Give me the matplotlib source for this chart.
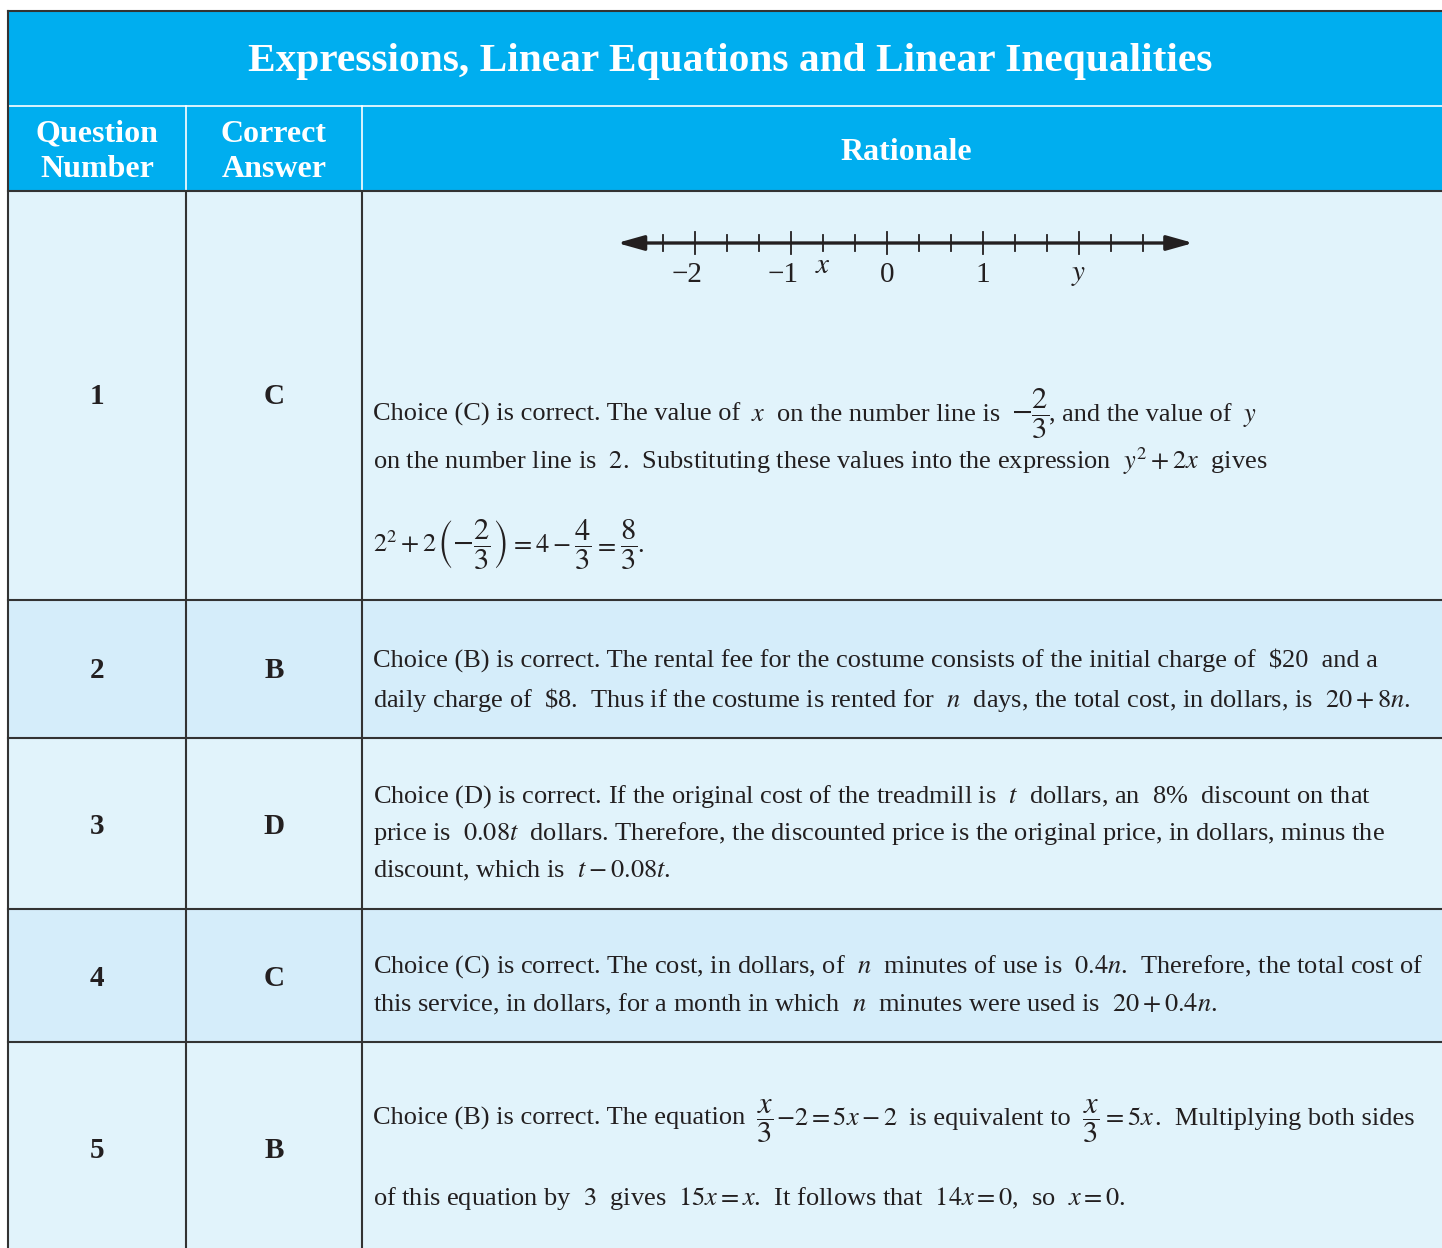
import matplotlib
matplotlib.use("Agg")
import matplotlib.pyplot as plt
from matplotlib.patches import Rectangle

plt.rcParams['font.family'] = ['Liberation Serif', 'DejaVu Serif']
plt.rcParams['mathtext.fontset'] = 'stix'

# table content
title = "Expressions, Linear Equations and Linear Inequalities"
header_labels = ["Question\nNumber", "Correct\nAnswer", "Rationale"]
question_numbers = ["1", "2", "3", "4", "5"]
correct_answers = ["C", "B", "D", "C", "B"]

# each line is a list of chunks; chunks holding a fraction are set a bit larger
rationale_lines = [
    [["Choice (C) is correct. The value of", "$x$", "on the number line is",
      r"$-\dfrac{2}{3}$", ", and the value of", "$y$"],
     [r"on the number line is  $2$.  Substituting these values into the expression  $y^2+2x$  gives"],
     ["$2^2+2$", r"$\left(-\dfrac{2}{3}\right)$", "$=4-$", r"$\dfrac{4}{3}$", "$=$",
      r"$\dfrac{8}{3}$", "."]],
    [[r"Choice (B) is correct. The rental fee for the costume consists of the initial charge of  \$20  and a"],
     [r"daily charge of  \$8.  Thus if the costume is rented for  $n$  days, the total cost, in dollars, is  $20+8n$."]],
    [[r"Choice (D) is correct. If the original cost of the treadmill is  $t$  dollars, an  8%  discount on that"],
     [r"price is  $0.08t$  dollars. Therefore, the discounted price is the original price, in dollars, minus the"],
     [r"discount, which is  $t-0.08t$."]],
    [[r"Choice (C) is correct. The cost, in dollars, of  $n$  minutes of use is  $0.4n$.  Therefore, the total cost of"],
     [r"this service, in dollars, for a month in which  $n$  minutes were used is  $20+0.4n$."]],
    [["Choice (B) is correct. The equation", r"$\dfrac{x}{3}$", "$-2=5x-2$",
      "is equivalent to", r"$\dfrac{x}{3}$", "$=5x$", ".  Multiplying both sides"],
     [r"of this equation by  $3$  gives  $15x=x$.  It follows that  $14x=0$,  so  $x=0$."]],
]

# number line for question 1 (ticks every third)
nl_ticks = [-7/3, -2, -5/3, -4/3, -1, -2/3, -1/3, 0, 1/3, 2/3, 1,
            4/3, 5/3, 2, 7/3, 8/3]
nl_major = [-2, -1, 0, 1, 2]
nl_labels = {-2: "\u22122", -1: "\u22121", 0: "0", 1: "1", 2: "$y$"}
x_value = -2/3
nl_range = (-2.81, 3.19)

# layout in pixels
W, H = 1442, 1248
col_edges = [8, 186, 362, 1450]
title_top, title_bot, head_bot = 11, 106, 191
row_edges = [191, 600, 738, 909, 1042, 1260]
row_label_y = [397, 671, 826, 978, 1150]
line_baselines = [[421, 469, 552], [667, 707], [803, 840, 877], [973, 1011], [1125, 1205]]
text_x = 373
text_size, frac_size = 19, 22

head_blue = '#00AEEF'
row_colors = ['#E1F3FB', '#D5EDFA']
ink = '#231F20'
border = '#333333'

fig = plt.figure(figsize=(W / 100, H / 100), dpi=100)
ax = fig.add_axes([0, 0, 1, 1])
ax.set_xlim(0, W)
ax.set_ylim(H, 0)
ax.axis('off')
renderer = fig.canvas.get_renderer()


def is_math(s):
    return s.startswith('$') and s.endswith('$')


def draw_chunks(x, y, chunks):
    prev = None
    for c in chunks:
        if prev is not None:
            if c[0] in ',.':
                pass
            elif is_math(prev) and is_math(c):
                x += 0 if c.startswith(r'$\left') else 3
            else:
                x += 11
        size = frac_size if 'frac' in c else text_size
        t = ax.text(x, y, c, color=ink, fontsize=size, ha='left', va='baseline')
        x += t.get_window_extent(renderer).width
        prev = c


# header band
ax.add_patch(Rectangle((col_edges[0], title_top), W, head_bot - title_top,
                       facecolor=head_blue, edgecolor='none'))
ax.text(730, 62, title, color='white', fontsize=29.8, fontweight='bold',
        ha='center', va='center')
ax.plot([col_edges[0], W], [title_bot, title_bot], color='white', lw=1.2)
for xe in col_edges[1:3]:
    ax.plot([xe, xe], [title_bot, head_bot], color='white', lw=1.2)
for i, lab in enumerate(header_labels):
    cx = (col_edges[i] + col_edges[i + 1]) / 2
    if i == 2:
        cx = 906
    ax.text(cx, 152, lab, color='white', fontsize=23,
            fontweight='bold', ha='center', va='center', linespacing=1.3)

# body rows
for r in range(len(question_numbers)):
    y0, y1 = row_edges[r], row_edges[r + 1]
    ax.add_patch(Rectangle((col_edges[0], y0), W, y1 - y0,
                           facecolor=row_colors[r % 2], edgecolor='none'))
    ax.text((col_edges[0] + col_edges[1]) / 2, row_label_y[r], question_numbers[r],
            color=ink, fontsize=21, fontweight='bold', ha='center', va='center')
    ax.text((col_edges[1] + col_edges[2]) / 2, row_label_y[r], correct_answers[r],
            color=ink, fontsize=21, fontweight='bold', ha='center', va='center')
    for line, yb in zip(rationale_lines[r], line_baselines[r]):
        draw_chunks(text_x, yb, line)

# grid lines
ax.plot([col_edges[0], W], [title_top, title_top], color=border, lw=1.5)
for ye in row_edges[:-1]:
    ax.plot([col_edges[0], W], [ye, ye], color=border, lw=1.5)
ax.plot([col_edges[0], col_edges[0]], [title_top, H], color=border, lw=1.5)
for xe in col_edges[1:3]:
    ax.plot([xe, xe], [head_bot, H], color=border, lw=1.5)

# number line as an inset axes: 96 px per unit, 0 at x=887
unit, zero_px = 96, 887
nl_xlim = (-2.95, 3.35)
left_px = zero_px + unit * nl_xlim[0]
width_px = unit * (nl_xlim[1] - nl_xlim[0])
top_px, bot_px = 215, 300
nax = fig.add_axes([left_px / W, 1 - bot_px / H, width_px / W, (bot_px - top_px) / H])
nax.set_xlim(*nl_xlim)
nax.set_ylim(bot_px, top_px)
nax.axis('off')
line_y = 243
nax.annotate('', xy=(nl_range[1], line_y), xytext=(nl_range[0], line_y),
             arrowprops=dict(arrowstyle='<|-|>,head_length=1.6,head_width=0.45',
                             lw=2.4, color=ink, shrinkA=0, shrinkB=0))
for t in nl_ticks:
    half = 11 if any(abs(t - m) < 1e-9 for m in nl_major) else 8
    nax.plot([t, t], [line_y - half, line_y + half], color=ink, lw=1.3)
for v, lab in nl_labels.items():
    off = -0.08 if v < 0 else 0
    nax.text(v + off, 275, lab, color=ink, fontsize=21, ha='center', va='center')
nax.text(x_value, 266, '$x$', color=ink, fontsize=21, ha='center', va='center')

fig.savefig('out.png', dpi=100)
